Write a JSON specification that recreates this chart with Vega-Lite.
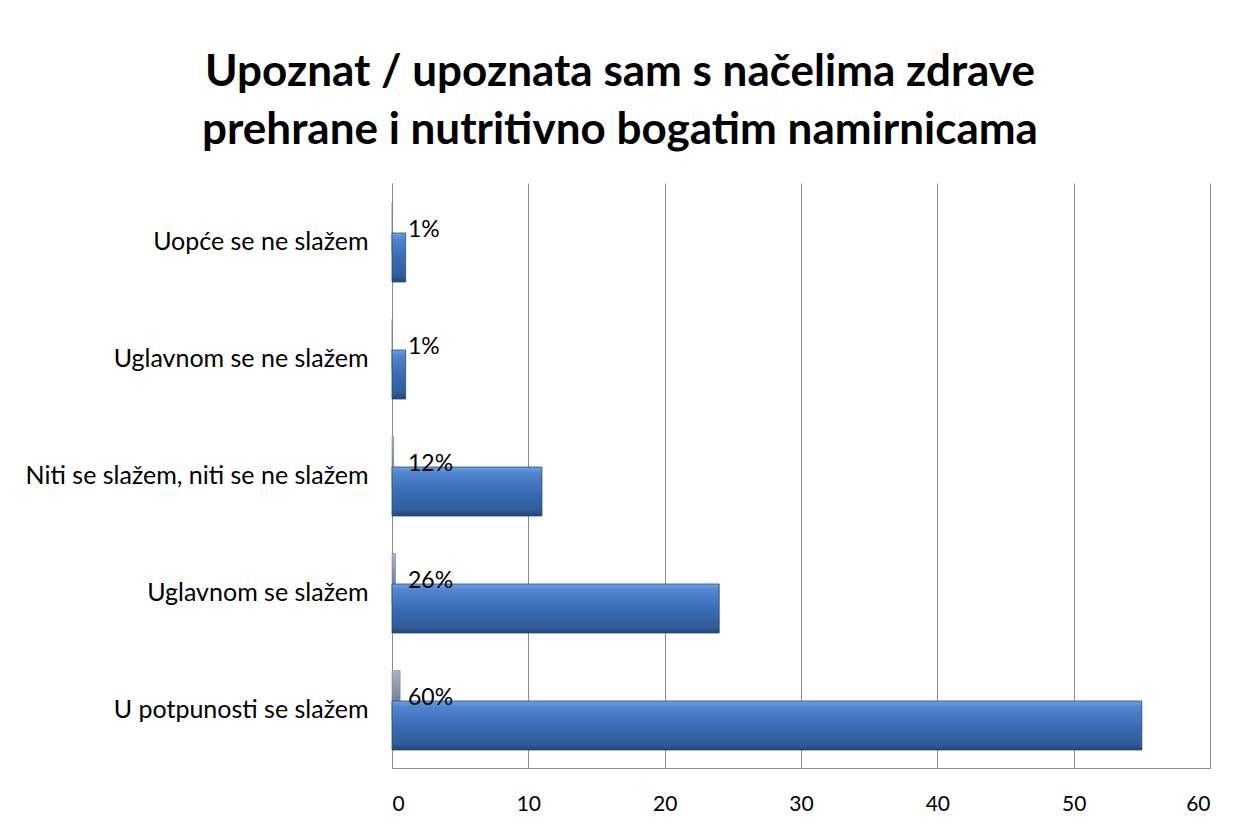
{
  "$schema": "https://vega.github.io/schema/vega-lite/v6.json",
  "width": 818,
  "height": 585,
  "autosize": {"type": "none"},
  "padding": {"left": 392, "top": 183, "right": 31, "bottom": 60},
  "background": "white",
  "config": {"view": {"stroke": null}, "font": "Lato"},
  "title": {
    "text": ["Upoznat / upoznata sam s načelima zdrave", "prehrane i nutritivno bogatim namirnicama"],
    "font": "Lato",
    "fontSize": 44,
    "fontWeight": "bold",
    "color": "#000000",
    "lineHeight": 58,
    "anchor": "middle",
    "dx": -181,
    "offset": 30
  },
  "data": {
    "values": [
      {"category": "Uopće se ne slažem", "count": 1, "pct": 0.01, "label": "1%"},
      {"category": "Uglavnom se ne slažem", "count": 1, "pct": 0.01, "label": "1%"},
      {"category": "Niti se slažem, niti se ne slažem", "count": 11, "pct": 0.12, "label": "12%"},
      {"category": "Uglavnom se slažem", "count": 24, "pct": 0.26, "label": "26%"},
      {"category": "U potpunosti se slažem", "count": 55, "pct": 0.6, "label": "60%"}
    ]
  },
  "encoding": {
    "y": {
      "field": "category",
      "type": "nominal",
      "sort": null,
      "title": null,
      "scale": {"paddingInner": 0, "paddingOuter": 0},
      "axis": {
        "labelFont": "Lato",
        "labelFontSize": 25,
        "labelColor": "#000000",
        "labelPadding": 24,
        "ticks": false,
        "domainColor": "#8c8c8c",
        "labelLimit": 400
      }
    }
  },
  "layer": [
    {
      "mark": {
        "type": "bar",
        "height": 50,
        "yOffset": -14,
        "color": {"gradient": "linear", "x1": 0, "y1": 0, "x2": 0, "y2": 1,
          "stops": [{"offset": 0, "color": "#aab4c4"}, {"offset": 0.5, "color": "#7d8aa0"}, {"offset": 1, "color": "#5d6880"}]},
        "stroke": "#6b7790",
        "strokeWidth": 0.5
      },
      "encoding": {
        "x": {
          "field": "pct",
          "type": "quantitative",
          "title": null,
          "scale": {"domain": [0, 60]},
          "axis": {
            "values": [0, 10, 20, 30, 40, 50, 60],
            "grid": true,
            "gridColor": "#8c8c8c",
            "gridWidth": 1,
            "ticks": false,
            "domainColor": "#8c8c8c",
            "labelFont": "Lato",
            "labelFontSize": 21,
            "labelColor": "#000000",
            "labelPadding": 25
          }
        }
      }
    },
    {
      "mark": {
        "type": "bar",
        "height": 49,
        "yOffset": 16,
        "color": {"gradient": "linear", "x1": 0, "y1": 0, "x2": 0, "y2": 1,
          "stops": [{"offset": 0, "color": "#6f9fe0"}, {"offset": 0.12, "color": "#4f86cf"}, {"offset": 0.5, "color": "#3b6db5"}, {"offset": 0.88, "color": "#2f5c9c"}, {"offset": 1, "color": "#24466f"}]},
        "stroke": "#2a4a7a",
        "strokeWidth": 0.8
      },
      "encoding": {
        "x": {"field": "count", "type": "quantitative"}
      }
    },
    {
      "mark": {
        "type": "text",
        "align": "left",
        "baseline": "middle",
        "dx": 16,
        "yOffset": -12,
        "fontSize": 23,
        "font": "Lato",
        "color": "#000000"
      },
      "encoding": {
        "x": {"datum": 0, "type": "quantitative"},
        "text": {"field": "label"}
      }
    }
  ]
}
